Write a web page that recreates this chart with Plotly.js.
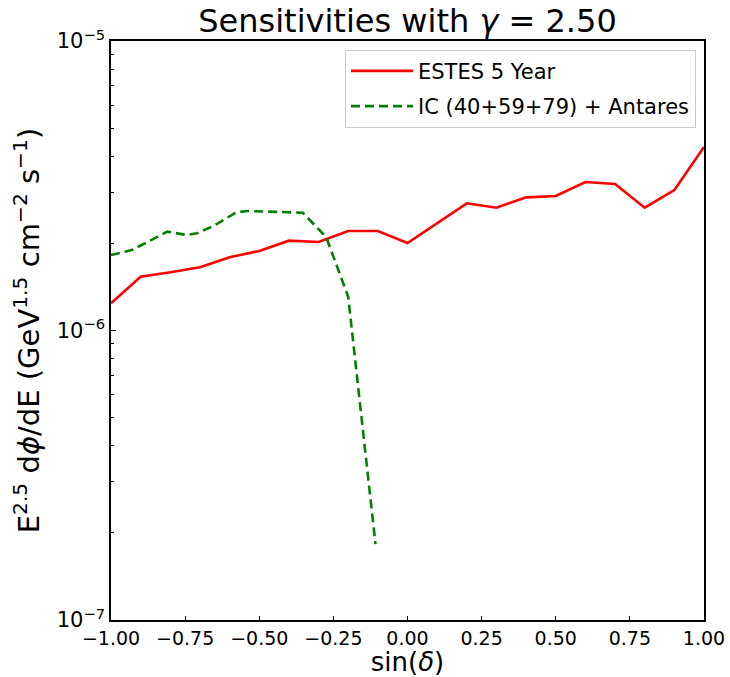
<!DOCTYPE html>
<html>
<head>
<meta charset="utf-8">
<script src="https://cdn.plot.ly/plotly-3.0.1.min.js"></script>
<style>body{margin:0;padding:0;background:#fff}#chart{width:730px;height:677px}</style>
</head>
<body>
<div id="chart"></div>
<script>
// ESTES 5 Year sensitivity
const estesSinDec = [-1.0,-0.9,-0.8,-0.7,-0.6,-0.5,-0.4,-0.3,-0.2,-0.1,0.0,0.1,0.2,0.3,0.4,0.5,0.6,0.7,0.8,0.9,1.0];
const estesFlux = [1.241e-6,1.534e-6,1.589e-6,1.653e-6,1.790e-6,1.882e-6,2.043e-6,2.022e-6,2.207e-6,2.207e-6,2.006e-6,2.346e-6,2.750e-6,2.656e-6,2.884e-6,2.914e-6,3.258e-6,3.206e-6,2.656e-6,3.056e-6,4.302e-6];
// IC (40+59+79) + Antares sensitivity
const icSinDec = [-1.0,-0.93,-0.89,-0.81,-0.745,-0.71,-0.655,-0.577,-0.54,-0.353,-0.274,-0.215,-0.2,-0.108];
const icFlux = [1.823e-6,1.897e-6,1.990e-6,2.195e-6,2.138e-6,2.167e-6,2.296e-6,2.560e-6,2.587e-6,2.552e-6,2.099e-6,1.45e-6,1.308e-6,1.830e-7];
const yTickVals = [1e-7,1e-6,1e-5];
const yTickText = ['10<sup>−7</sup>','10<sup>−6</sup>','10<sup>−5</sup>'];
const yMinorVals = [2e-7,3e-7,4e-7,5e-7,6e-7,7e-7,8e-7,9e-7,2e-6,3e-6,4e-6,5e-6,6e-6,7e-6,8e-6,9e-6];

const font = 'DejaVu Sans, sans-serif';
const traces = [
  {x: estesSinDec, y: estesFlux, mode:'lines', name:'ESTES 5 Year', legendgroup:'a',
   line:{color:'#ff0000', width:2.6}},
  {x: icSinDec, y: icFlux, mode:'lines', name:'IC (40+59+79) + Antares', legendgroup:'b',
   line:{color:'#008000', width:2.6, dash:'9px,5px'}}
];
const layout = {
  width:730, height:677,
  margin:{l:111, r:26, t:41, b:57},
  paper_bgcolor:'#fff', plot_bgcolor:'#fff',
  font:{family:font, color:'#000', size:20},
  title:{text:'Sensitivities with <i>γ</i> = 2.50', font:{size:32, family:font}, x:0.5+ (111-26)/2/730, xanchor:'center', y:0.97, yanchor:'middle'},
  showlegend:true,
  legend:{x:0.9865, xanchor:'right', y:0.985, yanchor:'top', bordercolor:'#cccccc', borderwidth:1,
          bgcolor:'rgba(255,255,255,0.8)', font:{size:21, family:font}, traceorder:'grouped', tracegroupgap:5,
          itemwidth:62},
  xaxis:{range:[-1,1], dtick:0.25, tick0:-1, tickformat:'.2f', ticks:'inside', ticklen:4, tickwidth:1, tickcolor:'#000',
         showline:true, mirror:true, linecolor:'#000', linewidth:1.7, showgrid:false, zeroline:false,
         tickfont:{size:19, family:font},
         title:{text:'sin(<i>δ</i>)', font:{size:26, family:font}, standoff:5}},
  yaxis:{type:'log', range:[-7,-5], tickvals:yTickVals, ticktext:yTickText, ticks:'inside', ticklen:5, tickwidth:1, tickcolor:'#000',
         minor:{tickvals:yMinorVals, ticks:'inside', ticklen:3, tickwidth:1, tickcolor:'#000', showgrid:false},
         showline:true, mirror:true, linecolor:'#000', linewidth:1.7, showgrid:false, zeroline:false,
         tickfont:{size:21, family:font},
         title:{text:'E<sup>2.5</sup> d<i>ϕ</i>/dE (GeV<sup>1.5</sup> cm<sup>−2</sup> s<sup>−1</sup>)', font:{size:29, family:font}, standoff:8}}
};
Plotly.newPlot('chart', traces, layout, {displayModeBar:false, staticPlot:true});
</script>
</body>
</html>
